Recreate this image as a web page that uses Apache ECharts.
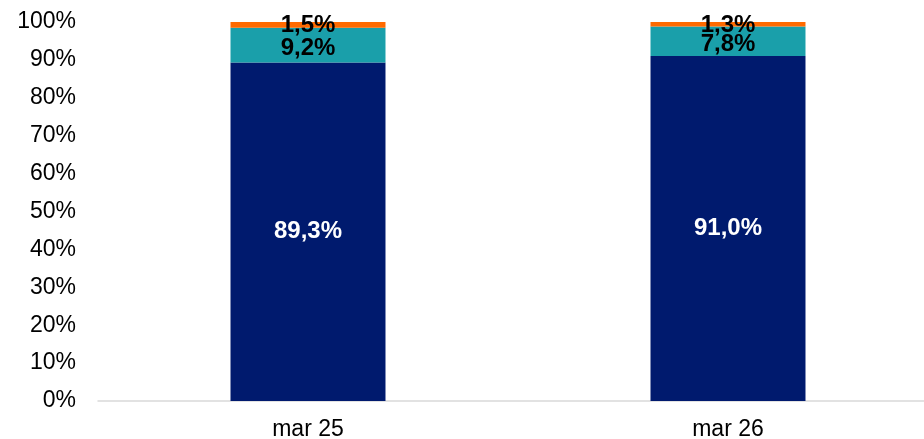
<!DOCTYPE html>
<html><head><meta charset="utf-8">
<script src="https://cdn.jsdelivr.net/npm/echarts@6/dist/echarts.min.js"></script>
<style>html,body{margin:0;padding:0;background:#fff}#c{width:924px;height:439px}</style>
</head><body><div id="c"></div>
<script>
const categories = ['mar 25', 'mar 26'];
const seriesA = [89.3, 91.0];
const seriesB = [9.2, 7.8];
const seriesC = [1.5, 1.3];
const fmt = v => v.toFixed(1).replace('.', ',') + '%';
const FONT = 'Arial, "Liberation Sans", sans-serif';
const chart = echarts.init(document.getElementById('c'));
const lbl = (color) => ({show: true, position: 'inside', color: color, fontFamily: FONT, fontWeight: 'bold', fontSize: 24, formatter: p => fmt(p.value)});
chart.setOption({
  animation: false,
  grid: {left: 98, width: 840, top: 22, bottom: 38, containLabel: false, outerBoundsMode: 'none'},
  xAxis: {type: 'category', data: categories,
    axisLine: {lineStyle: {color: '#d9d9d9', width: 1.5}}, axisTick: {show: false},
    axisLabel: {color: '#000', fontSize: 23, fontFamily: FONT, margin: 17}},
  yAxis: {type: 'value', min: 0, max: 100, interval: 10,
    splitLine: {show: false}, axisLine: {show: false}, axisTick: {show: false},
    axisLabel: {color: '#000', fontSize: 23, fontFamily: FONT, margin: 22, formatter: v => v + '%'}},
  series: [
    {type: 'bar', stack: 's', data: seriesA, barWidth: '36.9%', itemStyle: {color: '#001A6E'}, label: lbl('#fff')},
    {type: 'bar', stack: 's', data: seriesB, itemStyle: {color: '#1A9FAA'}, label: Object.assign(lbl('#000'), {offset: [0, 3]})},
    {type: 'bar', stack: 's', data: seriesC, itemStyle: {color: '#FF6A00'}, label: Object.assign(lbl('#000'), {offset: [0, 1]})}
  ]
});
</script></body></html>
